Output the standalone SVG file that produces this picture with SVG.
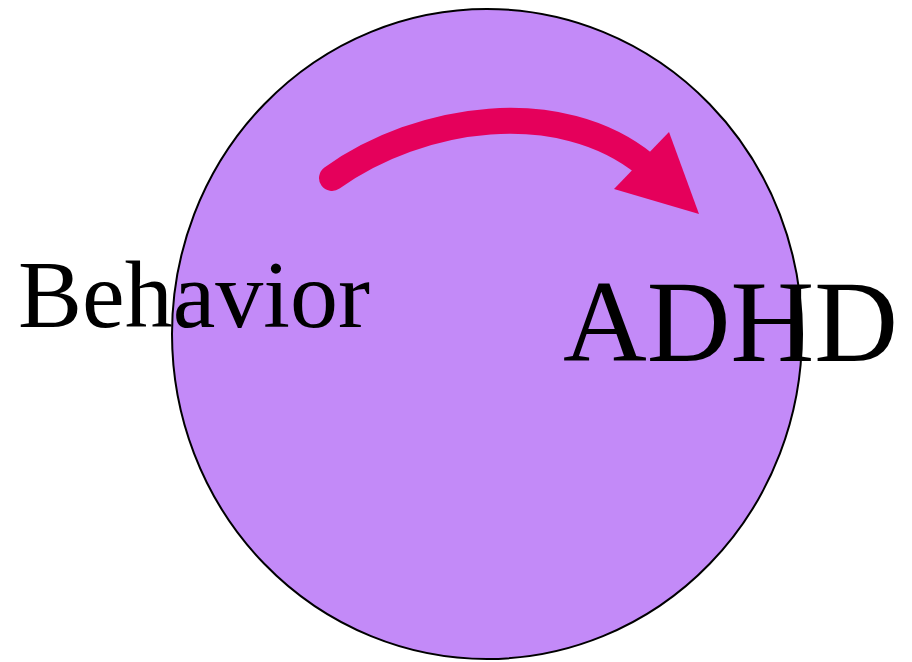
<svg xmlns="http://www.w3.org/2000/svg" width="912" height="662" viewBox="0 0 912 662">
<style>
.lbl{font-family:"Liberation Serif","Times New Roman",serif;fill:#000}
.arrow{fill:none;stroke:#E5005B;stroke-width:26;stroke-linecap:round}
</style>
<rect width="912" height="662" fill="#fff"/>
<g id="circle">
<ellipse cx="487" cy="334" rx="315" ry="325" fill="#C38AF8" stroke="#000" stroke-width="2"/>
</g>
<g id="connectors">
<path class="arrow" d="M332,178 C420,115 560,95 646,165"/>
<polygon points="699,214 669,132 614,189" fill="#E5005B"/>
</g>
<g id="behavior">
<text class="lbl" x="18" y="327" font-size="96">Behavior</text>
</g>
<g id="adhd">
<text class="lbl" x="563" y="361" font-size="116">ADHD</text>
</g>
</svg>
